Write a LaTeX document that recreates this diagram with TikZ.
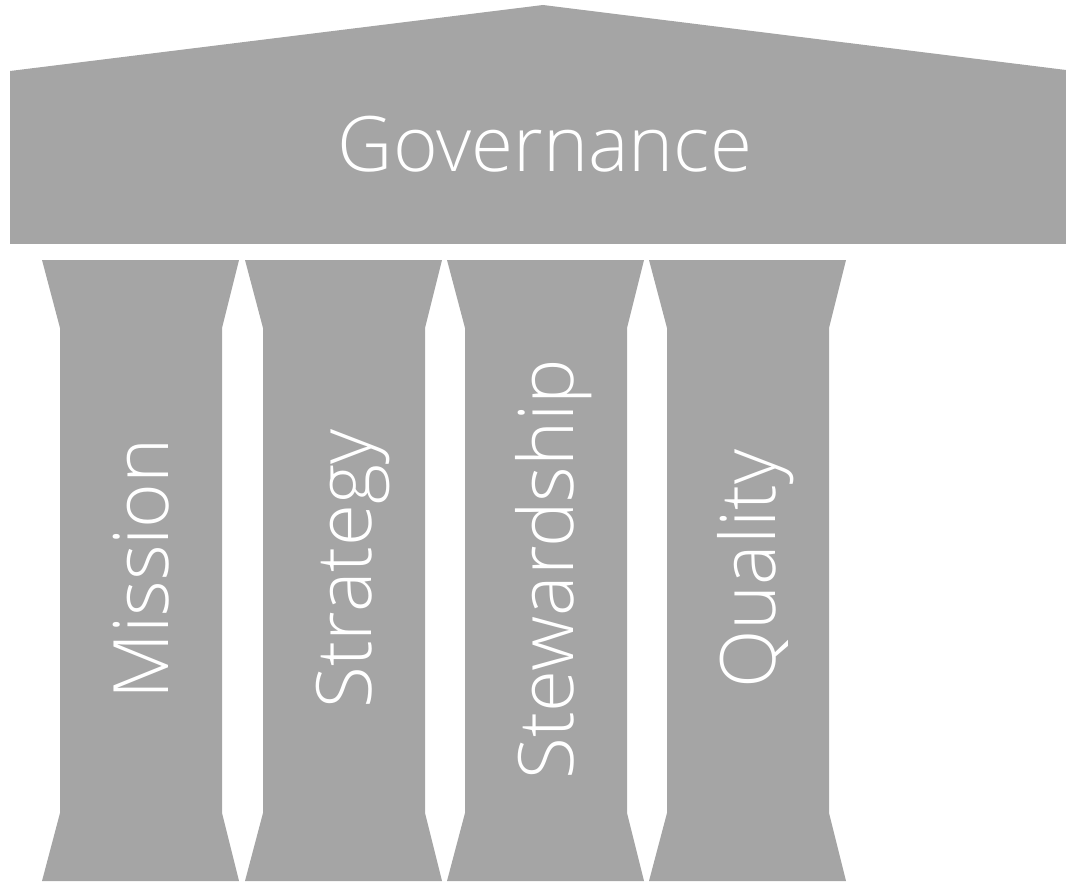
\documentclass[tikz,border=0pt]{standalone}
\usepackage{fontspec}
\setmainfont{Open Sans}[UprightFont=* Light]
\definecolor{stone}{HTML}{A5A5A5}
\tikzset{
  block/.style={fill=stone},
  caption/.style={text=white, font=\fontsize{43.5}{52}\selectfont,
    inner sep=0pt, text height=31pt, text depth=0pt},
}
\begin{document}
\begin{tikzpicture}[x=0.02cm,y=-0.02cm]
\useasboundingbox (0,0) rectangle (1066,882);
% roof
\fill[block] (10,244) -- (10,71) -- (543,5) -- (1066,70) -- (1066,244) -- cycle;
\node[caption] (roof) at (545,144) {Governance};
% columns
\foreach \x/\name/\txt in {42/mission/Mission, 245/strategy/Strategy,
    447/stewardship/Stewardship, 649/quality/Quality}{
  \fill[block] (\x,260) -- (\x+197,260) -- (\x+180,328) -- (\x+180,813)
    -- (\x+197,881) -- (\x,881) -- (\x+18,813) -- (\x+18,328) -- cycle;
  \node[caption, rotate=90] (\name) at (\x+99,569) {\txt};
}
\end{tikzpicture}
\end{document}
